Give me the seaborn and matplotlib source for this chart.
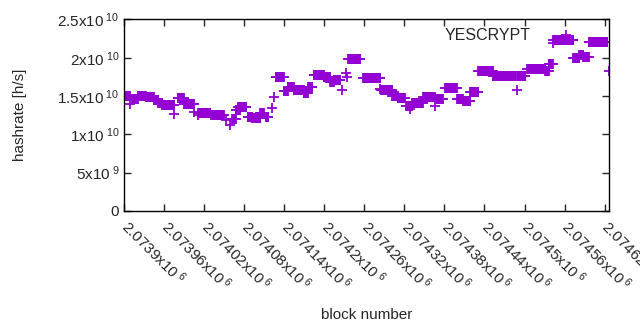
import numpy as np
import pandas as pd
import matplotlib
matplotlib.use("Agg")
import matplotlib.pyplot as plt
from matplotlib.lines import Line2D
import seaborn as sns

# runs of blocks with the same hashrate (first block, last block, hashrate in 1e10 h/s)
run_start = [2073900, 2073909, 2073912, 2073920, 2073932, 2073944, 2073951, 2073957,
             2073975, 2073980, 2073990, 2074004, 2074010, 2074011, 2074030, 2074053,
             2074059, 2074062, 2074067, 2074071, 2074085, 2074092, 2074104, 2074112,
             2074122, 2074125, 2074127, 2074139, 2074145, 2074154, 2074169, 2074176,
             2074184, 2074199, 2074209, 2074214, 2074227, 2074233, 2074234, 2074236,
             2074258, 2074284, 2074285, 2074302, 2074310, 2074323, 2074329, 2074332,
             2074348, 2074366, 2074368, 2074381, 2074399, 2074408, 2074419, 2074431,
             2074452, 2074488, 2074489, 2074504, 2074531, 2074536, 2074542, 2074543,
             2074573, 2074582, 2074588, 2074596, 2074626]
run_end = [2073909, 2073909, 2073920, 2073932, 2073944, 2073951, 2073957, 2073975,
           2073975, 2073989, 2074004, 2074004, 2074010, 2074029, 2074049, 2074053,
           2074059, 2074067, 2074073, 2074083, 2074092, 2074104, 2074109, 2074116,
           2074122, 2074125, 2074139, 2074145, 2074154, 2074169, 2074175, 2074182,
           2074199, 2074209, 2074214, 2074224, 2074227, 2074233, 2074234, 2074254,
           2074284, 2074284, 2074302, 2074310, 2074321, 2074332, 2074329, 2074348,
           2074366, 2074366, 2074378, 2074399, 2074408, 2074419, 2074431, 2074452,
           2074486, 2074488, 2074501, 2074531, 2074536, 2074542, 2074542, 2074573,
           2074582, 2074588, 2074596, 2074624, 2074626]
run_rate = [1.501, 1.397, 1.462, 1.501, 1.488, 1.449, 1.410, 1.384,
            1.266, 1.475, 1.397, 1.292, 1.253, 1.279, 1.253, 1.188,
            1.123, 1.201, 1.318, 1.358, 1.227, 1.214, 1.279, 1.227,
            1.345, 1.488, 1.749, 1.567, 1.619, 1.580, 1.540, 1.619,
            1.775, 1.749, 1.684, 1.710, 1.580, 1.802, 1.749, 1.984,
            1.736, 1.593, 1.580, 1.501, 1.475, 1.371, 1.332, 1.410,
            1.488, 1.371, 1.462, 1.606, 1.462, 1.436, 1.554, 1.828,
            1.762, 1.580, 1.762, 1.854, 1.828, 1.919, 2.193, 2.232,
            1.997, 2.037, 2.010, 2.206, 1.828]

rows = []
for s, e, r in zip(run_start, run_end, run_rate):
    for b in range(s, e + 1):
        rows.append((b, r * 1e10))
df = pd.DataFrame(rows, columns=["block", "hashrate"])

xticks = list(range(2073900, 2074621, 60))
yticks = [0, 5e9, 1e10, 1.5e10, 2e10, 2.5e10]
ytick_labels = ["0", "5x10$^{\\ 9}$", "1x10$^{\\ 10}$", "1.5x10$^{\\ 10}$",
                "2x10$^{\\ 10}$", "2.5x10$^{\\ 10}$"]

sns.set_style("ticks")
plt.rcParams["font.family"] = ["Liberation Sans", "DejaVu Sans"]
plt.rcParams["mathtext.fontset"] = "custom"
plt.rcParams["mathtext.rm"] = "Liberation Sans"
plt.rcParams["mathtext.it"] = "Liberation Sans"

purple = "#9400d3"

fig = plt.figure(figsize=(6.4, 3.3), dpi=100)
ax = fig.add_axes([0.194, 0.361, 0.758, 0.58])

sns.scatterplot(data=df, x="block", y="hashrate", marker="+", s=50,
                linewidth=1.3, color=purple, legend=False, ax=ax)

ax.set_xlim(2073900, 2074627)
ax.set_ylim(0, 2.5e10)
ax.set_yticks(yticks)
ax.set_yticklabels(ytick_labels, fontsize=11)
ax.set_xticks(xticks)
ax.set_xticklabels([f"{t / 1e6:g}x10$^{{\\ 6}}$" for t in xticks], fontsize=11,
                   rotation=-45, ha="left", va="center", rotation_mode="anchor")
ax.tick_params(direction="in", length=5, width=1, top=True, right=True)
ax.tick_params(axis="x", pad=9)
for sp in ax.spines.values():
    sp.set_linewidth(1)
    sp.set_color("black")

ax.set_xlabel("block number", fontsize=11)
ax.set_ylabel("hashrate [h/s]", fontsize=11)
ax.xaxis.set_label_coords(0.5, -0.51)
ax.yaxis.set_label_coords(-0.2, 0.5)

handle = Line2D([], [], linestyle="none", marker="+", markersize=7,
                markeredgewidth=1.3, color=purple)
ax.legend([handle], ["YESCRYPT"], loc="upper right", bbox_to_anchor=(0.982, 1.03),
          frameon=False, markerfirst=False, fontsize=11.5, handletextpad=1.0,
          handlelength=2.5)

fig.savefig("out.png", dpi=100)
